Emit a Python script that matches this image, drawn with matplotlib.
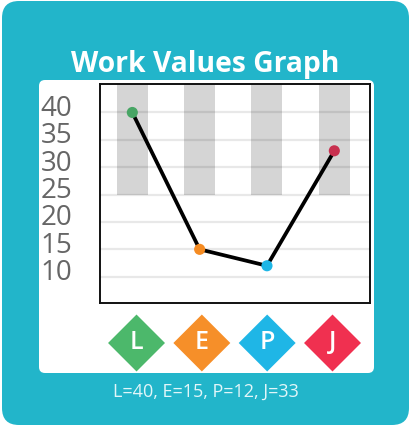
import matplotlib

matplotlib.use("Agg")
import matplotlib.pyplot as plt
from matplotlib.patches import FancyBboxPatch
from matplotlib.transforms import ScaledTranslation

W, H = 409, 426

letters = ["L", "E", "P", "J"]
values = [40, 15, 12, 33]
y_ticks = [10, 15, 20, 25, 30, 35, 40]
dot_colors = ["#47A564", "#F58B22", "#1DB6E6", "#C8304F"]
badge_colors = ["#4CB86B", "#F68F29", "#1FB6E6", "#F03050"]
band_floor = 25
band_top = 46


def px_axes(fig, left, top, right, bottom):
    # axes from pixel box, y counted from the top of the image
    return fig.add_axes([left / W, 1 - bottom / H, (right - left) / W, (bottom - top) / H])


fig = plt.figure(figsize=(W / 100, H / 100), dpi=100, facecolor="white")

# card and white panel
bg = fig.add_axes([0, 0, 1, 1])
bg.axis("off")
bg.add_patch(
    FancyBboxPatch((2, 1), 407, 424, boxstyle="round,pad=0,rounding_size=17", fc="#22B5CA", ec="none")
)
panel = FancyBboxPatch((39, 80), 335, 293, boxstyle="round,pad=0,rounding_size=6", fc="white", ec="none")
bg.add_patch(panel)
gradient = bg.imshow(
    [[1.0], [1.0], [0.975]],
    extent=(39, 374, 373, 80),
    cmap="gray",
    vmin=0,
    vmax=1,
    aspect="auto",
    interpolation="bilinear",
)
gradient.set_clip_path(panel)
bg.set_xlim(0, W)
bg.set_ylim(H, 0)

bg.text(205.5, 64.5, "Work Values Graph", color="white", fontsize=20.3, fontweight="bold",
        ha="center", va="center", family="Open Sans")
footer = ", ".join(f"{k}={v}" for k, v in zip(letters, values))
bg.text(205.5, 392, footer, color="#E2F6F9", fontsize=13, ha="center", va="center", family="Open Sans")

# main plot
ax = px_axes(fig, 100, 84, 370, 303)
ax.patch.set_alpha(0)
positions = range(len(letters))
ax.bar(positions, band_top - band_floor, bottom=band_floor, width=0.46, color="#D5D5D5", zorder=1)
ax.set_xlim(-0.48, 3.53)
ax.set_ylim(5.2, 45.2)
ax.set_yticks(y_ticks)
ax.set_xticks([])
ax.tick_params(axis="y", length=0, pad=20, labelsize=20, labelcolor="#666666")
for label in ax.get_yticklabels():
    label.set_family("Open Sans")
    # the numbers sit a little above their grid lines
    label.set_transform(label.get_transform() + ScaledTranslation(0, 7 / 100, fig.dpi_scale_trans))
ax.grid(axis="y", color="black", alpha=0.09, lw=1.6, zorder=2)
ax.set_axisbelow(False)
ax.plot(positions, values, color="black", lw=2.7, zorder=3)
ax.scatter(positions, values, c=dot_colors, s=64, linewidths=0, zorder=4)
for spine in ax.spines.values():
    spine.set_linewidth(1.4)
    spine.set_color("#111111")

# letter badges
badges = px_axes(fig, 100, 313, 370, 373)
badges.axis("off")
badges.set_xlim(-0.559, 3.574)
badges.set_ylim(-1, 1)
badges.scatter(positions, [0] * len(letters), marker="D", s=841, c=badge_colors, linewidths=0, clip_on=False)
for i, letter in enumerate(letters):
    badges.text(i, 0.03, letter, color="white", fontsize=18, fontweight="semibold", ha="center", va="center",
                family="Open Sans")

fig.savefig("out.png", dpi=100)
